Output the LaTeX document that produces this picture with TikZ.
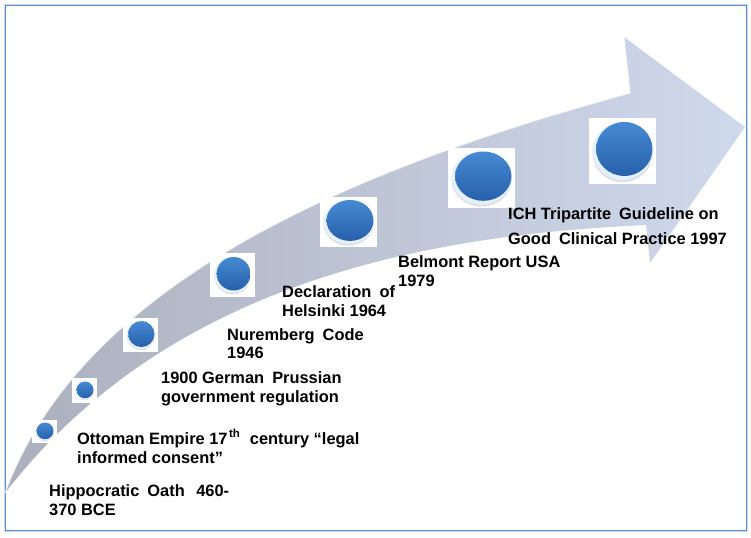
\documentclass[tikz,border=0pt]{standalone}
\usepackage{fontspec}
\setmainfont{Liberation Sans}
\usetikzlibrary{calc}
\definecolor{frameblue}{RGB}{91,143,214}
\definecolor{arrowL}{RGB}{172,176,189}
\definecolor{arrowM}{RGB}{198,204,221}
\definecolor{arrowR}{RGB}{207,217,236}
\definecolor{orbtop}{RGB}{70,138,212}
\definecolor{orbbot}{RGB}{40,96,170}
\definecolor{orbrim}{RGB}{228,240,253}
\newcommand\gap{\hspace{3.5bp}}
\tikzset{
  lbl/.style={anchor=base west, inner sep=0pt, font=\fontsize{16.4bp}{19bp}\selectfont\bfseries, text=black},
  orbbox/.style={fill=white, draw=none, inner sep=0pt},
}
\newcommand\orbmark[7]{%
  \node[orbbox, minimum width=#4bp, minimum height=#5bp] (#1) at (#2,#3) {};
  \fill[black, opacity=0.12] ($(#1)+(0,{0.08*#7})$) ellipse [x radius=#6bp, y radius=#7bp];
  \fill[orbrim] (#1) ellipse [x radius=#6bp, y radius=#7bp];
  \shade[top color=orbtop, bottom color=orbbot] ($(#1)+({0.06*#6},{-0.07*#7})$) ellipse [x radius={0.94*#6bp}, y radius={0.93*#7bp}];
}
\begin{document}
\begin{tikzpicture}[x=1bp,y=-1bp]
\useasboundingbox (0,0) rectangle (751,538);
% frame
\draw[frameblue!35, line width=1bp] (4.2,4.2) rectangle (747.8,531.8);
\draw[frameblue, line width=1.3bp] (5.5,5.5) rectangle (746.5,530.5);
% arrow
\shade[left color=arrowL, middle color=arrowM, right color=arrowR]
  (5,493) .. controls (80,290) and (330,175) .. (630,93)
  -- (624,37) -- (745,127) -- (650,263) -- (646,225)
  .. controls (430,235) and (170,280) .. (5,493) -- cycle;
\draw[white, opacity=0.65, line width=1.2bp]
  (5,493) .. controls (80,290) and (330,175) .. (630,93) -- (624,37);
% orbs
\orbmark{s1}{44.5}{431.5}{25}{23}{9}{9}
\orbmark{s2}{84.5}{390.5}{25}{25}{9}{9}
\orbmark{s3}{140.5}{335}{35}{34}{14}{14}
\orbmark{s4}{232.5}{275}{45}{44}{18}{18}
\orbmark{s5}{348.5}{222}{57}{50}{25}{22}
\orbmark{s6}{481.5}{178}{67}{60}{30}{26.5}
\orbmark{s7}{622.5}{151}{67}{66}{30}{29}
% labels
\node[lbl] (t1a) at (49,496) {Hippocratic \gap Oath \gap\gap 460-};
\node[lbl] (t1b) at (49,515) {370 BCE};
\node[lbl] (t2a) at (77,444) {Ottoman Empire 17\kern1.5bp\textsuperscript{th}\hspace{5bp} century “legal};
\node[lbl] (t2b) at (77,463) {informed consent”};
\node[lbl] (t3a) at (161,383) {1900 German \gap Prussian};
\node[lbl] (t3b) at (161,402) {government regulation};
\node[lbl] (t4a) at (227,340) {Nuremberg \gap Code};
\node[lbl] (t4b) at (227,358) {1946};
\node[lbl] (t5a) at (282,298) {Declaration \gap of};
\node[lbl] (t5b) at (282,316) {Helsinki 1964};
\node[lbl] (t6a) at (398,268) {Belmont Report USA};
\node[lbl] (t6b) at (398,287) {1979};
\node[lbl] (t7a) at (508,220) {ICH Tripartite \gap Guideline on};
\node[lbl] (t7b) at (508,245) {Good \gap Clinical Practice 1997};
\end{tikzpicture}
\end{document}
